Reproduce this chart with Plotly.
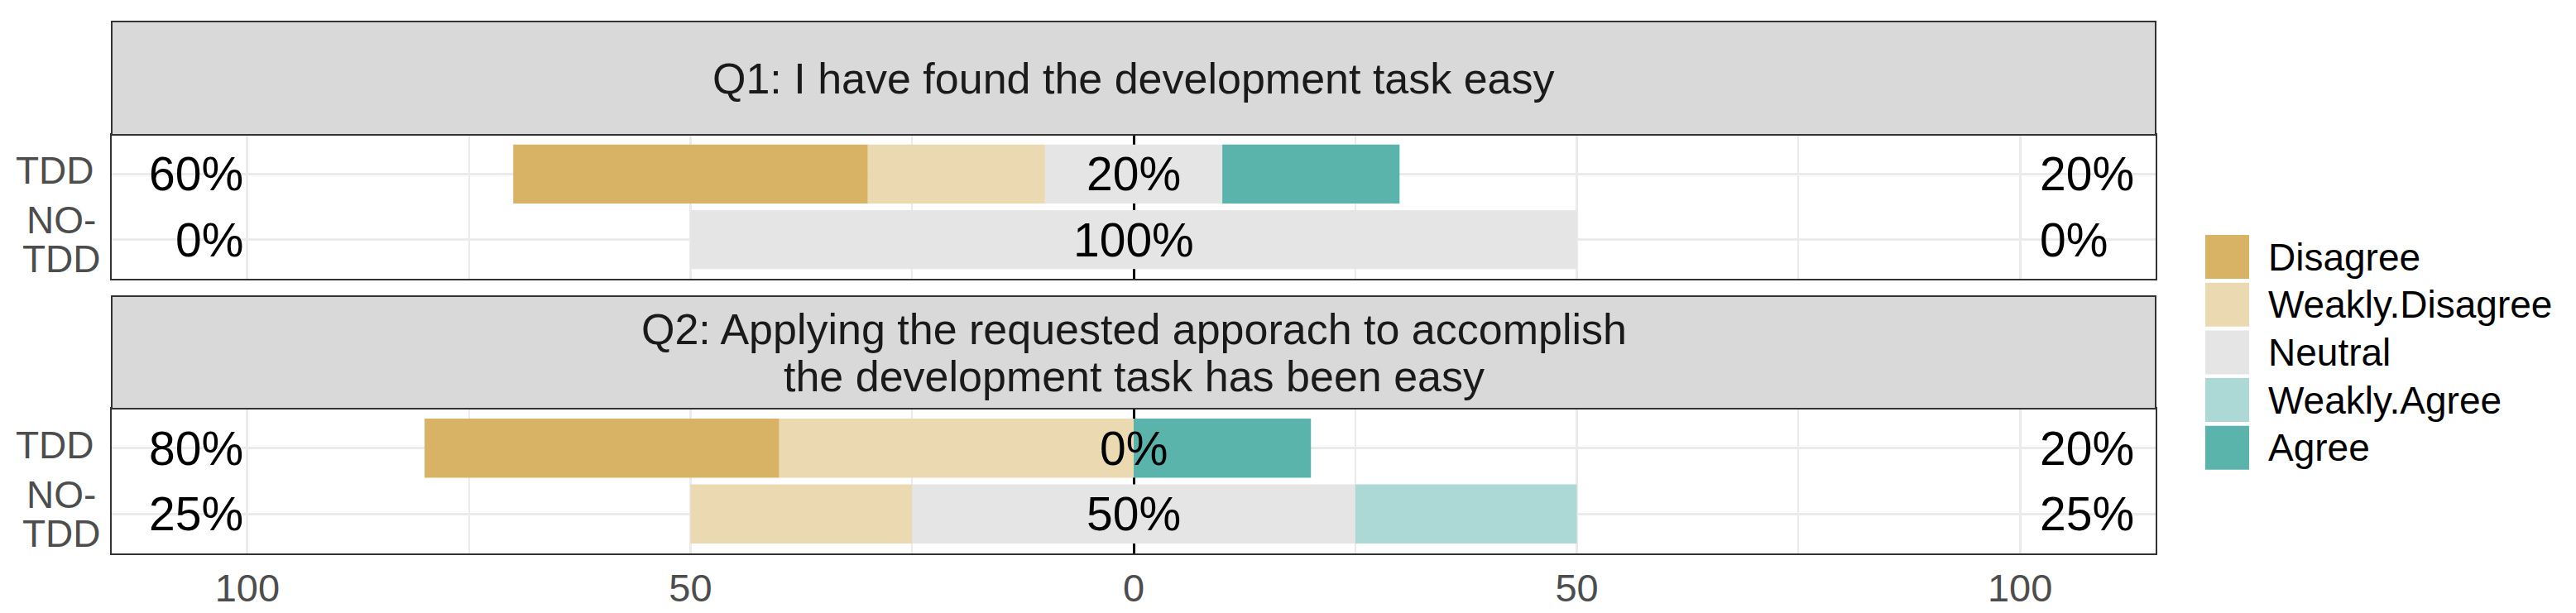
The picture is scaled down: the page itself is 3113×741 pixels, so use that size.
import plotly.graph_objects as go

W, H = 3113, 741

# ---------------- data ----------------
questions = [
    "Q1: I have found the development task easy",
    "Q2: Applying the requested apporach to accomplish\nthe development task has been easy",
]
groups = ["TDD", "NO-TDD"]
group_labels = ["TDD", "NO-\nTDD"]
levels = ["Disagree", "Weakly.Disagree", "Neutral", "Weakly.Agree", "Agree"]
level_colors = ["#D8B365", "#EBD9B2", "#E5E5E5", "#ACD9D5", "#5AB4AC"]

q1_tdd = [40, 20, 20, 0, 20]
q1_notdd = [0, 0, 100, 0, 0]
q2_tdd = [40, 40, 0, 0, 20]
q2_notdd = [0, 25, 50, 25, 0]

x_tickvals = [-100, -50, 0, 50, 100]
x_ticktext = ["100", "50", "0", "50", "100"]
x_minorvals = [-75, -25, 25, 75]

panel_data = [
    {"TDD": q1_tdd, "NO-TDD": q1_notdd},
    {"TDD": q2_tdd, "NO-TDD": q2_notdd},
]

# ---------------- layout geometry (pixels) ----------------
PANEL_L, PANEL_R = 127, 2597
X_LIM = 115.3
panels_px = [(155, 329), (486, 661)]
strips_px = [(18, 155), (350, 486)]
FONT = "Liberation Sans, Arial, Helvetica, sans-serif"


def px(xp):
    return xp / W


def py(yp):
    return 1 - yp / H


fig = go.Figure()
shapes = []
annotations = []

for i, pdata in enumerate(panel_data):
    suf = "" if i == 0 else str(i + 1)
    xa, ya = "x" + suf, "y" + suf
    vals = {lv: [pdata[g][k] for g in groups] for k, lv in enumerate(levels)}

    def add(name, xs, color):
        fig.add_trace(go.Bar(
            y=groups, x=xs, orientation="h", name=name,
            marker=dict(color=color, line=dict(width=0)),
            width=0.9, showlegend=False, xaxis=xa, yaxis=ya,
        ))

    add("Neutral", [-v / 2 for v in vals["Neutral"]], level_colors[2])
    add("Neutral", [v / 2 for v in vals["Neutral"]], level_colors[2])
    add("Weakly.Disagree", [-v for v in vals["Weakly.Disagree"]], level_colors[1])
    add("Weakly.Agree", vals["Weakly.Agree"], level_colors[3])
    add("Disagree", [-v for v in vals["Disagree"]], level_colors[0])
    add("Agree", vals["Agree"], level_colors[4])

    top, bot = panels_px[i]
    fig.update_layout(**{
        "xaxis" + suf: dict(
            domain=[px(PANEL_L), px(PANEL_R)], range=[-X_LIM, X_LIM],
            anchor=ya, tickvals=x_tickvals, ticktext=x_ticktext,
            showticklabels=(i == 1), ticks="",
            tickfont=dict(family=FONT, size=47, color="#4D4D4D"),
            showgrid=True, gridcolor="#EBEBEB", gridwidth=3,
            minor=dict(tickvals=x_minorvals, showgrid=True,
                       gridcolor="#EBEBEB", gridwidth=2, ticks=""),
            zeroline=True, zerolinecolor="black", zerolinewidth=2.5,
            showline=True, mirror=True,
            linecolor="#333333", linewidth=2, fixedrange=True,
        ),
        "yaxis" + suf: dict(
            domain=[py(bot), py(top)], anchor=xa, type="category",
            categoryorder="array", categoryarray=groups[::-1],
            range=[-0.6, 1.6], showticklabels=False, ticks="",
            showgrid=True, gridcolor="#EBEBEB", gridwidth=3,
            zeroline=False, showline=True, mirror=True,
            linecolor="#333333", linewidth=2, fixedrange=True,
        ),
    })

    # strip
    s_top, s_bot = strips_px[i]
    shapes.append(dict(type="rect", xref="paper", yref="paper",
                       x0=px(PANEL_L), x1=px(PANEL_R), y0=py(s_bot), y1=py(s_top),
                       fillcolor="#D9D9D9", line=dict(color="#333333", width=2)))
    lines = questions[i].split("\n")
    n = len(lines)
    line_gap = 57
    for j, ln in enumerate(lines):
        annotations.append(dict(
            xref="paper", yref="paper", x=px((PANEL_L + PANEL_R) / 2),
            y=py((s_top + s_bot) / 2), yshift=((n - 1) / 2 - j) * line_gap,
            text=ln, showarrow=False, xanchor="center", yanchor="middle",
            font=dict(family=FONT, size=52, color="#1A1A1A")))

    # percentage labels
    for g in groups:
        v = pdata[g]
        low = v[0] + v[1]
        neu = v[2]
        high = v[3] + v[4]
        common = dict(xref=xa, yref=ya, y=g, showarrow=False, yanchor="middle",
                      font=dict(family=FONT, size=57, color="black"))
        annotations.append(dict(x=-100.3, text=f"{low:g}%", xanchor="right", **common))
        annotations.append(dict(x=0, text=f"{neu:g}%", xanchor="center", **common))
        annotations.append(dict(x=102, text=f"{high:g}%", xanchor="left", **common))

    # y-axis category labels (wrapped, tight line height, lines centred)
    for g, lab in zip(groups, group_labels):
        parts = lab.split("\n")
        m = len(parts)
        if m == 1:
            annotations.append(dict(
                xref="paper", yref=ya, x=px(108), y=g, yshift=4,
                text=parts[0], showarrow=False, xanchor="right", yanchor="middle",
                font=dict(family=FONT, size=46, color="#4D4D4D")))
        else:
            for j, part in enumerate(parts):
                annotations.append(dict(
                    xref="paper", yref=ya, x=px(66), y=g,
                    yshift=((m - 1) / 2 - j) * 47, text=part, showarrow=False,
                    xanchor="center", yanchor="middle",
                    font=dict(family=FONT, size=46, color="#4D4D4D")))

# ---------------- legend (drawn manually for large keys) ----------------
KEY_X0, KEY_X1 = 2657, 2710
KEY_TOP0, KEY_STEP, KEY_SIZE = 276, 57.7, 53
for k, (lv, col) in enumerate(zip(levels, level_colors)):
    t = KEY_TOP0 + k * KEY_STEP
    shapes.append(dict(type="rect", xref="paper", yref="paper",
                       x0=px(KEY_X0), x1=px(KEY_X1), y0=py(t + KEY_SIZE), y1=py(t),
                       fillcolor=col, line=dict(width=0)))
    annotations.append(dict(xref="paper", yref="paper", x=px(2731),
                            y=py(t + KEY_SIZE / 2), text=lv, showarrow=False,
                            xanchor="left", yanchor="middle",
                            font=dict(family=FONT, size=46, color="black")))

fig.update_layout(
    width=W, height=H, margin=dict(l=0, r=0, t=0, b=0),
    barmode="relative", bargap=0.1,
    paper_bgcolor="white", plot_bgcolor="white",
    shapes=shapes, annotations=annotations, showlegend=False,
    font=dict(family=FONT),
)

fig.write_html("out.html")
